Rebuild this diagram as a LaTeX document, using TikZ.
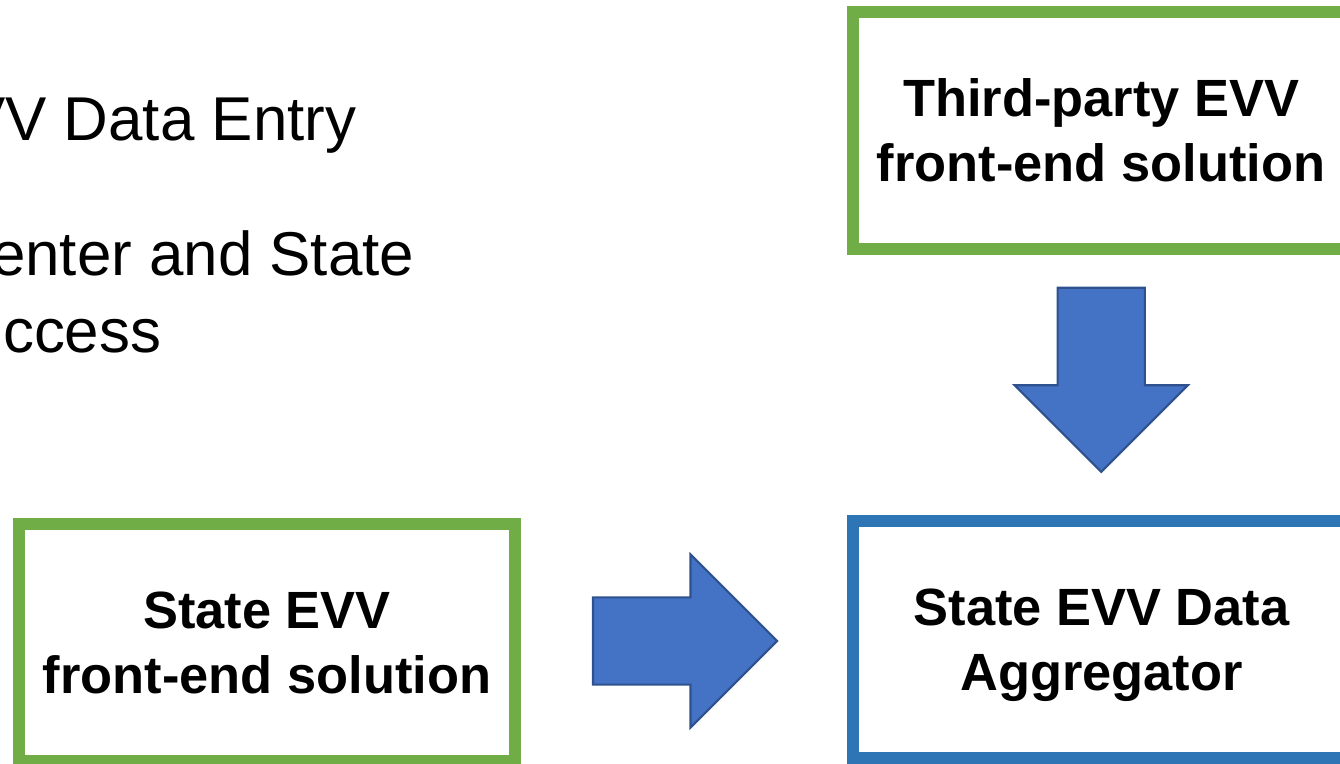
\documentclass[tikz,border=0pt]{standalone}
\usepackage{fontspec}
\setmainfont{Liberation Sans}
\usetikzlibrary{shapes.arrows,calc}
\definecolor{boxgreen}{HTML}{70AD47}
\definecolor{boxblue}{HTML}{2E75B6}
\definecolor{arrowfill}{HTML}{4472C4}
\definecolor{arrowline}{HTML}{2F528F}
\tikzset{
	solution/.style={
			draw=#1, line width=3.4pt, fill=white,
			minimum width=4.96cm, minimum height=2.37cm,
			inner sep=0pt, align=center,
			font=\fontsize{14.9}{18.5}\selectfont\bfseries
		},
	bigarrow/.style={
			single arrow, fill=arrowfill, draw=arrowline, line width=0.6pt,
			minimum height=1.84cm, inner xsep=0pt, inner ysep=0.425cm,
			single arrow head extend=0.43cm
		},
	bullet/.style={anchor=base east, inner sep=0pt, font=\fontsize{17.6}{21.9}\selectfont}
}
\begin{document}
\begin{tikzpicture}[x=0.01cm,y=-0.01cm]
	\useasboundingbox (0,0) rectangle (1340,763);
	\clip (0,0) rectangle (1340,763);

	% cut-off slide text
	\node[bullet] (entry) at (357,140) {VV Data Entry};
	\node[bullet] (center) at (415,275) {enter and State};
	\node[bullet] (access) at (162,352) {ccess};

	\node[solution=boxgreen] (third) at (1101,130.5) {Third-party EVV\\front-end solution};
	\node[solution=boxgreen] (state) at (267,642.5) {State EVV\\front-end solution};
	\node[solution=boxblue] (agg) at (1101.5,639.5) {State EVV Data\\\smash{Aggregator}};

	% arrow centre sits behind the head, hence the shift
	\node[bigarrow, rotate=-90] (down) at ($(third.south)!0.5!(agg.north)+(0,-27)$) {};
	\node[bigarrow] (right) at ($(state.east)!0.5!(agg.west)+(-21,0)$) {};
\end{tikzpicture}
\end{document}
